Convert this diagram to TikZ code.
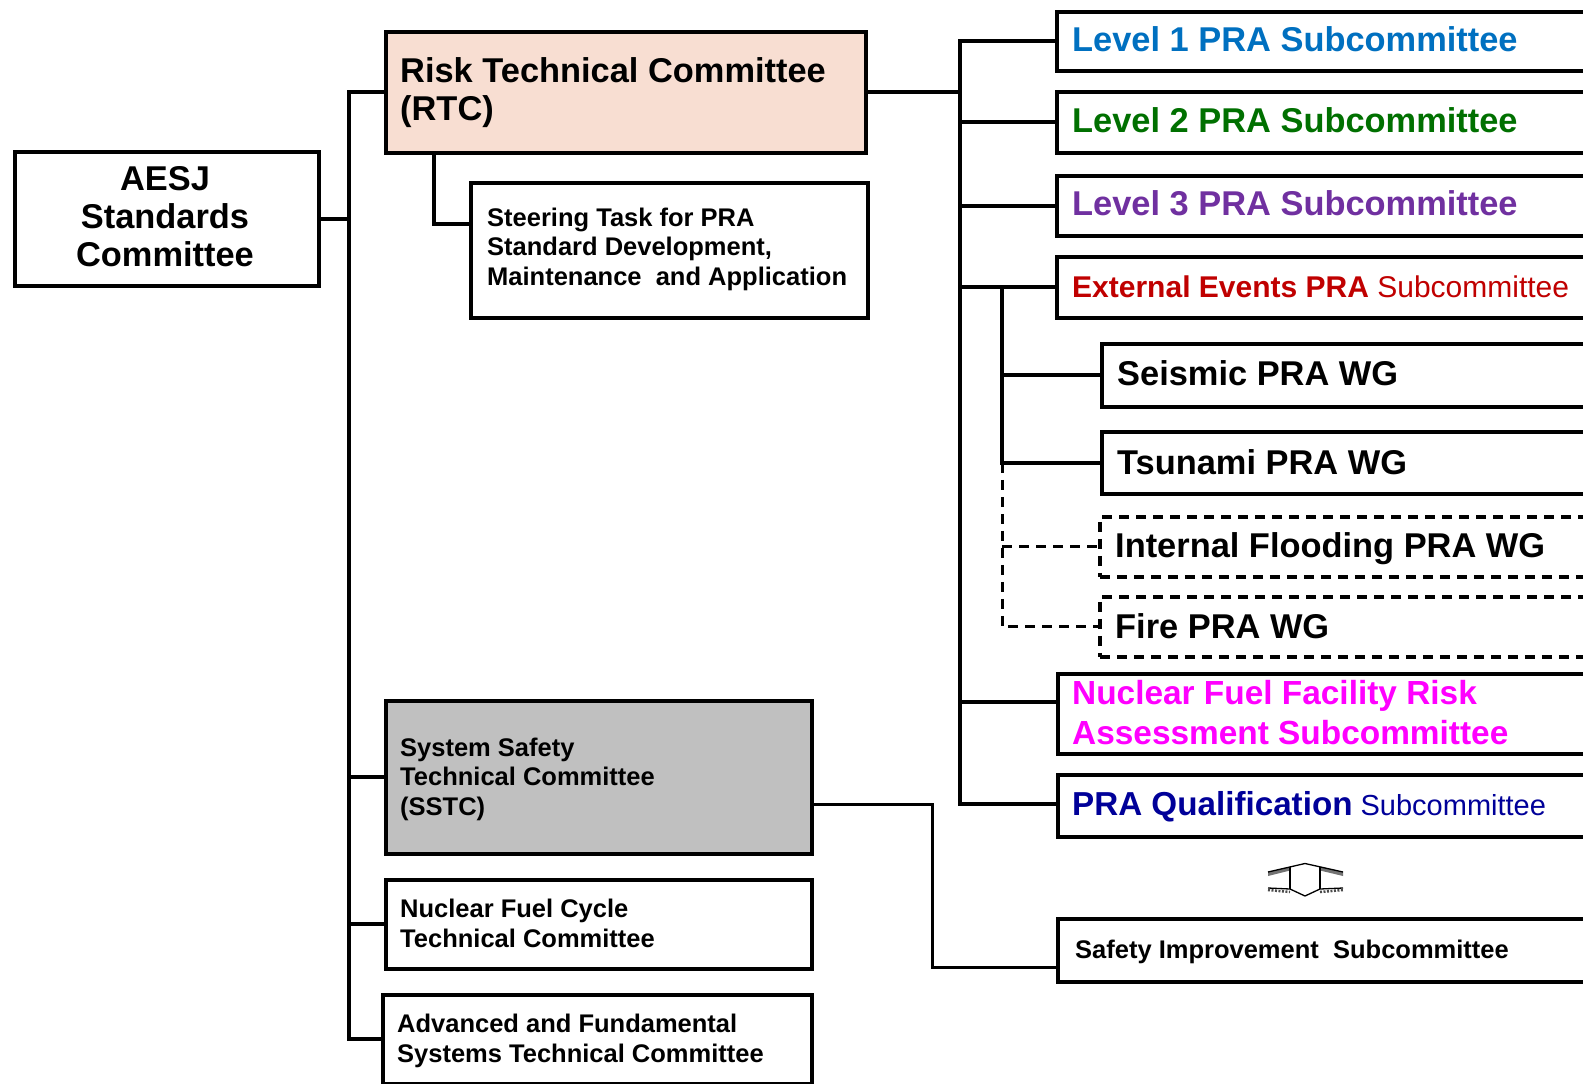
\documentclass[tikz,border=0pt]{standalone}
\usepackage{fontspec}
\setmainfont{Liberation Sans}
\definecolor{cLone}{RGB}{0,112,192}
\definecolor{cLtwo}{RGB}{0,112,0}
\definecolor{cLthree}{RGB}{112,48,160}
\definecolor{cExt}{RGB}{192,0,0}
\definecolor{cNff}{RGB}{255,0,255}
\definecolor{cPrq}{RGB}{0,0,153}
\definecolor{cRtc}{RGB}{248,222,210}
\definecolor{cSstc}{RGB}{192,192,192}
\newcommand\FontBig{\fontsize{34.4}{38}\selectfont\bfseries}
\newcommand\FontSm{\fontsize{25.5}{29.5}\selectfont\bfseries}
\begin{document}
\begin{tikzpicture}[x=1pt,y=-1pt,
  box/.style={draw=black, line width=3.5pt, inner sep=0pt, anchor=north west, fill=white},
  dbox/.style={box, dash pattern=on 10pt off 7pt},
  conn/.style={line width=4pt},
  dconn/.style={line width=3pt, dash pattern=on 10pt off 7pt},
  tconn/.style={line width=3pt},
  txt/.style={inner sep=0pt, anchor=base west, align=left},
]
\useasboundingbox (0,0) rectangle (1583,1084);
\clip (0,0) rectangle (1583,1084);

% left column boxes
\node[box, minimum width=304pt, minimum height=134pt] (aesj) at (13,150) {};
\node[box, fill=cRtc, minimum width=480pt, minimum height=121pt] (rtc) at (384,30) {};
\node[box, minimum width=397pt, minimum height=135pt] (steer) at (469,181) {};
\node[box, fill=cSstc, minimum width=426pt, minimum height=153pt] (sstc) at (384,699) {};
\node[box, minimum width=426pt, minimum height=89pt] (nfc) at (384,878) {};
\node[box, minimum width=429pt, minimum height=89pt] (adv) at (381,993) {};

% right column boxes
\node[box, minimum width=560pt, minimum height=59pt] (lone) at (1055,10) {};
\node[box, minimum width=560pt, minimum height=61pt] (ltwo) at (1055,90) {};
\node[box, minimum width=560pt, minimum height=60pt] (lthree) at (1055,174) {};
\node[box, minimum width=560pt, minimum height=61pt] (ext) at (1055,255) {};
\node[box, minimum width=520pt, minimum height=63pt] (seis) at (1100,342) {};
\node[box, minimum width=520pt, minimum height=62pt] (tsu) at (1100,430) {};
\node[dbox, minimum width=520pt, minimum height=60pt] (ifl) at (1098,515) {};
\node[dbox, minimum width=520pt, minimum height=60pt] (fire) at (1098,595) {};
\node[box, minimum width=560pt, minimum height=80pt] (nff) at (1056,672) {};
\node[box, minimum width=560pt, minimum height=62pt] (prq) at (1056,773) {};
\node[box, minimum width=560pt, minimum height=63pt] (safe) at (1056,917) {};

% helper coordinates
\coordinate (L) at (349,0);
\coordinate (R) at (960,0);
\coordinate (E) at (1002,0);
\coordinate (sx) at (434,0);
\coordinate (sy) at (0,224);
\coordinate (ny) at (0,702);
\coordinate (qy) at (0,804);
\coordinate (qx) at (932,0);
\coordinate (wy) at (0,967);

% left trunk
\draw[conn] (rtc.west) -| (L |- adv.west) -- (adv.west);
\draw[conn] (aesj.east) -- (L |- aesj.east);
\draw[conn] (L |- sstc.west) -- (sstc.west);
\draw[conn] (L |- nfc.west) -- (nfc.west);
\draw[conn] (rtc.south -| sx) |- (steer.west |- sy);

% right trunk
\draw[conn] (lone.west) -| (R |- qy) -- (prq.west |- qy);
\draw[conn] (rtc.east) -- (R |- rtc.east);
\draw[conn] (R |- ltwo.west) -- (ltwo.west);
\draw[conn] (R |- lthree.west) -- (lthree.west);
\draw[conn] (R |- ext.west) -- (ext.west);
\draw[conn] (R |- ny) -- (nff.west |- ny);

% external events sub-trunk
\draw[conn] (E |- ext.west) -- (E |- tsu.west) -- (tsu.west);
\draw[conn] (E |- seis.west) -- (seis.west);
\draw[dconn] (E |- tsu.west) -- (E |- fire.west) -- (fire.west);
\draw[dconn] (E |- ifl.west) -- (ifl.west);

% SSTC to safety improvement
\draw[tconn] (sstc.east |- qy) -| (qx |- wy) -- (safe.west |- wy);

% texts (multi-line: base anchor = last line baseline)
\node[inner sep=0pt, anchor=base, align=center, font=\FontBig] (taesj) at (165,266) {AESJ\\Standards\\Committee};
\node[txt, font=\FontBig] (trtc) at (400,120) {Risk Technical Committee\\(RTC)};
\node[txt, font=\FontSm] (tsteer) at (487,285) {Steering Task for PRA\\Standard Development,\\Maintenance\ \ and Application};
\node[txt, font=\FontSm] (tsstc) at (400,815) {System Safety\\Technical Committee\\(SSTC)};
\node[txt, font=\fontsize{25.5}{30}\selectfont\bfseries] (tnfc) at (400,947) {Nuclear Fuel Cycle\\Technical Committee};
\node[txt, font=\FontSm] (tadv) at (397,1062) {Advanced and Fundamental\\Systems Technical Committee};

\node[txt, font=\FontBig, text=cLone] (tlone) at (1072,51) {Level 1 PRA Subcommittee};
\node[txt, font=\FontBig, text=cLtwo] (tltwo) at (1072,132) {Level 2 PRA Subcommittee};
\node[txt, font=\FontBig, text=cLthree] (tlthree) at (1072,215) {Level 3 PRA Subcommittee};
\node[txt, font=\fontsize{30}{36}\selectfont, text=cExt] (text) at (1072,297) {\bfseries External Events PRA\mdseries{} Subcommittee};
\node[txt, font=\FontBig] (tseis) at (1117,385) {Seismic PRA WG};
\node[txt, font=\FontBig] (ttsu) at (1117,474) {Tsunami PRA WG};
\node[txt, font=\FontBig] (tifl) at (1115,557) {Internal Flooding PRA WG};
\node[txt, font=\FontBig] (tfire) at (1115,638) {Fire PRA WG};
\node[txt, font=\fontsize{33.4}{40}\selectfont\bfseries, text=cNff] (tnff) at (1072,744) {Nuclear Fuel Facility Risk\\Assessment Subcommittee};
\node[txt, text=cPrq] (tprq) at (1072,815) {\fontsize{33.2}{38}\selectfont\bfseries PRA Qualification\fontsize{29}{34}\selectfont\mdseries{} Subcommittee};
\node[txt, font=\FontSm] (tsafe) at (1075,958) {Safety Improvement\ \ Subcommittee};

% up-down hollow arrow symbol
\fill[black!55] (1268,872) -- (1290,866.7) -- (1290,870.5) -- (1268,876) -- cycle;
\fill[black!55] (1343,872) -- (1320,866.5) -- (1320,870.5) -- (1343,876) -- cycle;
\draw[black!70, line width=2.5pt, dash pattern=on 2pt off 1.5pt] (1268,890) -- (1290,892) (1320,892) -- (1343,890);
\draw[line width=1.3pt, line join=miter] (1268,872) -- (1305,863.5) -- (1343,872);
\draw[line width=1.3pt] (1290,867) -- (1290,889) (1320,867) -- (1320,889);
\draw[line width=1.3pt, line join=miter] (1268,888) -- (1290,889) -- (1305,896) -- (1320,889) -- (1343,888);
\end{tikzpicture}
\end{document}
